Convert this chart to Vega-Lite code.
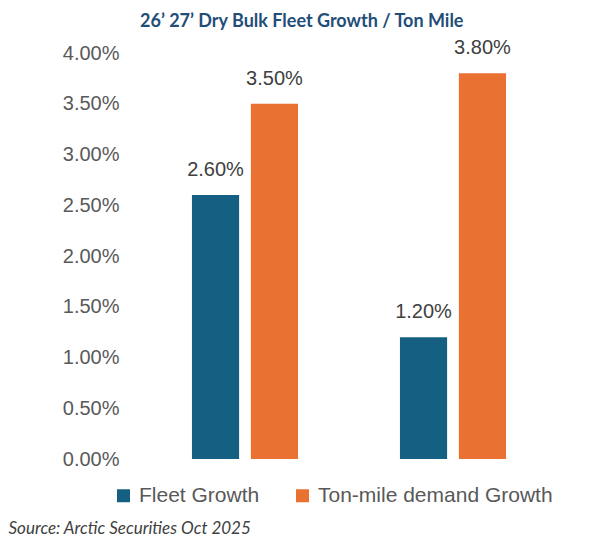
{
  "$schema": "https://vega.github.io/schema/vega-lite/v6.json",
  "autosize": {"type": "none"},
  "padding": {"left": 141, "top": 53, "right": 33, "bottom": 82},
  "width": 416,
  "height": 406,
  "background": "white",
  "title": {
    "text": "26’ 27’ Dry Bulk Fleet Growth / Ton Mile",
    "font": "Lato",
    "fontSize": 18,
    "fontWeight": "bold",
    "color": "#1F4E79",
    "anchor": "start",
    "frame": "group",
    "baseline": "alphabetic",
    "dx": -1,
    "dy": 23,
    "offset": 16
  },
  "data": {
    "values": [
      {"year": "2026", "series": "Fleet Growth", "value": 0.026},
      {"year": "2026", "series": "Ton-mile demand Growth", "value": 0.035},
      {"year": "2027", "series": "Fleet Growth", "value": 0.012},
      {"year": "2027", "series": "Ton-mile demand Growth", "value": 0.038}
    ]
  },
  "encoding": {
    "x": {
      "field": "year",
      "type": "nominal",
      "scale": {"paddingInner": 0.49, "paddingOuter": 0.245},
      "axis": {
        "title": "Source: Arctic Securities Oct 2025",
        "labels": false,
        "ticks": false,
        "domain": false,
        "titleFont": "Lato",
        "titleFontStyle": "italic",
        "titleFontWeight": "normal",
        "titleFontSize": 17,
        "titleColor": "#404040",
        "titleAlign": "left",
        "titleBaseline": "alphabetic",
        "titleX": -133,
        "titleY": 74
      }
    },
    "xOffset": {
      "field": "series",
      "type": "nominal",
      "scale": {"paddingInner": 0.2}
    },
    "y": {
      "field": "value",
      "type": "quantitative",
      "scale": {"domain": [0, 0.04]},
      "axis": {
        "title": null,
        "format": ".2%",
        "values": [0, 0.005, 0.01, 0.015, 0.02, 0.025, 0.03, 0.035, 0.04],
        "grid": false,
        "ticks": false,
        "domain": false,
        "labelFont": "Liberation Sans",
        "labelFontSize": 20,
        "labelColor": "#595959",
        "labelPadding": 22
      }
    }
  },
  "layer": [
    {
      "mark": {"type": "bar"},
      "encoding": {
        "color": {
          "field": "series",
          "type": "nominal",
          "scale": {
            "domain": ["Fleet Growth", "Ton-mile demand Growth"],
            "range": ["#156082", "#E97132"]
          },
          "legend": {
            "title": null,
            "orient": "none",
            "direction": "horizontal",
            "legendX": -28,
            "legendY": 432,
            "symbolType": "square",
            "symbolSize": 169,
            "symbolStrokeWidth": 0,
            "symbolOpacity": 1,
            "labelFont": "Liberation Sans",
            "labelFontSize": 21,
            "labelColor": "#595959",
            "labelOffset": 5,
            "columnPadding": 32,
            "labelLimit": 400
          }
        }
      }
    },
    {
      "mark": {
        "type": "text",
        "baseline": "middle",
        "dy": -25,
        "font": "Liberation Sans",
        "fontSize": 20,
        "color": "#404040"
      },
      "encoding": {
        "text": {"field": "value", "type": "quantitative", "format": ".2%"}
      }
    }
  ],
  "config": {"view": {"stroke": null}}
}
